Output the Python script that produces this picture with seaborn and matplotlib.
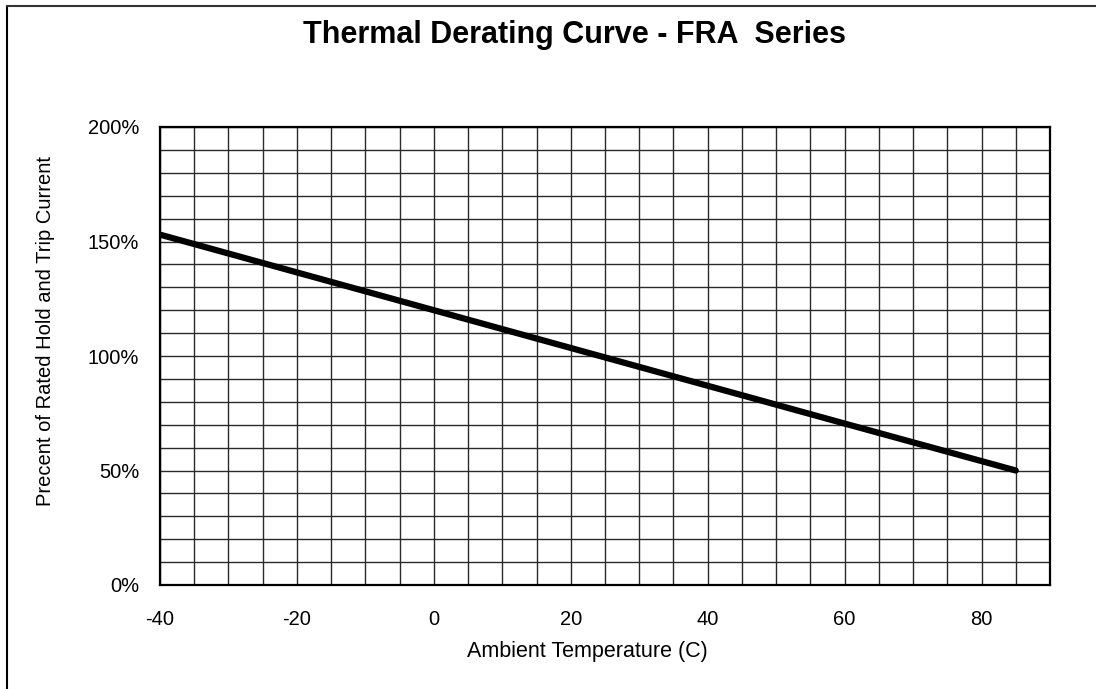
import matplotlib
matplotlib.use("Agg")
import matplotlib.pyplot as plt
import matplotlib.lines as mlines
from matplotlib.ticker import MultipleLocator, FuncFormatter
import seaborn as sns
import pandas as pd

# Derating curve
temperature_c = [-40, -20, 0, 20, 40, 60, 85]
percent_rated = [153, 136.5, 120, 103.5, 87, 70.5, 50]

sns.set_theme(style="white")
plt.rcParams["font.family"] = ["Liberation Sans", "DejaVu Sans"]
plt.rcParams["text.color"] = "black"
plt.rcParams["axes.labelcolor"] = "black"
plt.rcParams["xtick.color"] = "black"
plt.rcParams["ytick.color"] = "black"

df = pd.DataFrame({"temp": temperature_c, "pct": percent_rated})

fig = plt.figure(figsize=(10.96, 6.89), dpi=100)
ax = fig.add_axes([160 / 1096, 1 - 585 / 689, 890 / 1096, 458 / 689])

sns.lineplot(data=df, x="temp", y="pct", ax=ax, color="black", linewidth=4.5,
             solid_capstyle="round")

ax.set_xlim(-40, 90)
ax.set_ylim(0, 200)
ax.xaxis.set_major_locator(MultipleLocator(20))
ax.xaxis.set_minor_locator(MultipleLocator(5))
ax.yaxis.set_major_locator(MultipleLocator(50))
ax.yaxis.set_minor_locator(MultipleLocator(10))
ax.yaxis.set_major_formatter(FuncFormatter(lambda v, _: f"{v:.0f}%"))
ax.xaxis.set_major_formatter(FuncFormatter(lambda v, _: f"{v:.0f}"))

ax.grid(which="both", color="#2a2a2a", linewidth=1.0)
ax.set_axisbelow(True)
for s in ax.spines.values():
    s.set_color("black")
    s.set_linewidth(1.6)

ax.tick_params(axis="x", which="major", direction="in", length=4, width=1.2,
               color="#444444", labelsize=14.5, pad=18)
ax.tick_params(axis="y", which="major", left=False, length=0, labelsize=14.5, pad=15)
ax.tick_params(which="minor", length=0)

ax.set_xlabel("Ambient Temperature (C)", fontsize=15.5)
ax.set_ylabel("Precent of Rated Hold and Trip Current", fontsize=14.5)
ax.xaxis.set_label_coords((587 - 160) / 890, -(641 - 585) / 458)
ax.yaxis.set_label_coords(-(160 - 55) / 890, (585 - 331) / 458)

fig.text(574 / 1096, 1 - 43 / 689, "Thermal Derating Curve - FRA  Series",
         ha="center", va="baseline", fontsize=22, fontweight="bold")

# outer frame (left and top edges only visible in reference)
fig.add_artist(mlines.Line2D([7 / 1096, 7 / 1096], [0, 1 - 6 / 689],
                             transform=fig.transFigure, color="black", linewidth=1.5))
fig.add_artist(mlines.Line2D([7 / 1096, 1], [1 - 6 / 689, 1 - 6 / 689],
                             transform=fig.transFigure, color="#333333", linewidth=1.5))

fig.savefig("out.png", dpi=100)
